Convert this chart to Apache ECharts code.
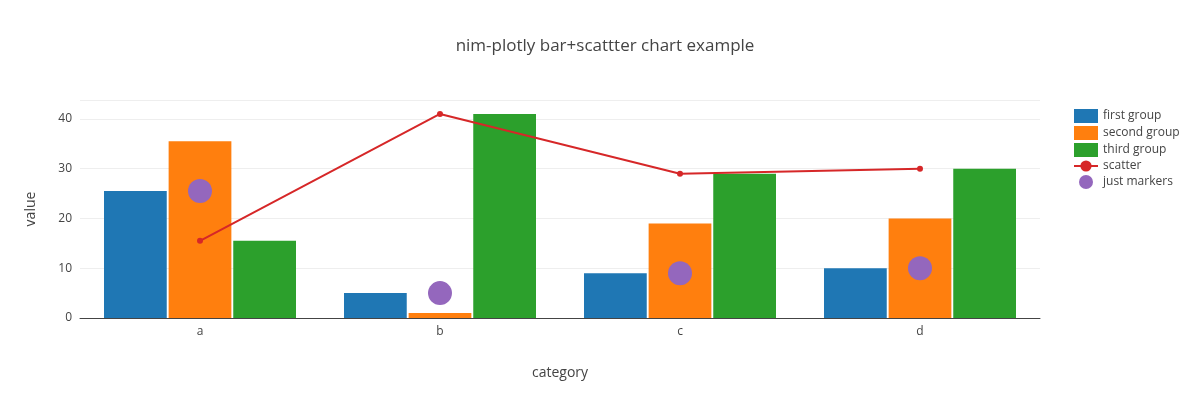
<!DOCTYPE html>
<html>
<head>
<meta charset="utf-8">
<script src="https://cdn.jsdelivr.net/npm/echarts@6/dist/echarts.min.js"></script>
<style>body{margin:0}#main{width:1200px;height:400px}</style>
</head>
<body>
<div id="main"></div>
<script>
const categories = ['a', 'b', 'c', 'd'];
const firstGroup = [25.5, 5, 9, 10];
const secondGroup = [35.5, 1, 19, 20];
const thirdGroup = [15.5, 41, 29, 30];
const scatterLine = [15.5, 41, 29, 30];
const justMarkers = [25.5, 5, 9, 10];

const chart = echarts.init(document.getElementById('main'));
const font = '"Open Sans", sans-serif';
const bar = (name, data, color) => ({
    name: name, type: 'bar', data: data, barGap: '3%', barCategoryGap: '20%',
    itemStyle: { color: color }
});
chart.setOption({
    animation: false,
    textStyle: { fontFamily: font, color: '#444' },
    title: {
        text: 'nim-plotly bar+scattter chart example', left: 600, top: 33, textAlign: 'center',
        textStyle: { fontSize: 17, fontWeight: 'normal', color: '#444', fontFamily: font }
    },
    legend: {
        orient: 'vertical', left: 1068, top: 104, itemGap: 3, itemWidth: 24, itemHeight: 14,
        textStyle: { fontSize: 12, color: '#444', fontFamily: font },
        data: [
            { name: 'first group', icon: 'rect', itemStyle: { color: '#1f77b4' } },
            { name: 'second group', icon: 'rect' },
            { name: 'third group', icon: 'rect' },
            { name: 'scatter' },
            { name: 'just markers', icon: 'circle' }
        ]
    },
    grid: { left: 80, right: 160, top: 100, bottom: 82 },
    xAxis: {
        type: 'category', data: categories,
        name: 'category', nameLocation: 'middle', nameGap: 48,
        nameTextStyle: { fontSize: 14, color: '#444' },
        axisLine: { lineStyle: { color: '#444' } },
        axisTick: { show: false },
        axisLabel: { color: '#444', fontSize: 12 }
    },
    yAxis: {
        type: 'value', min: 0, max: 43.8, interval: 10,
        name: 'value', nameLocation: 'middle', nameGap: 42,
        nameTextStyle: { fontSize: 14, color: '#444' },
        axisLine: { show: false }, axisTick: { show: false },
        axisLabel: { color: '#444', fontSize: 12, showMaxLabel: false },
        splitLine: { lineStyle: { color: '#eee' } }
    },
    series: [
        bar('first group', firstGroup, '#1f77b4'),
        bar('second group', secondGroup, '#ff7f0e'),
        bar('third group', thirdGroup, '#2ca02c'),
        {
            name: 'scatter', type: 'line', data: scatterLine, symbol: 'circle', symbolSize: 6,
            lineStyle: { color: '#d62728', width: 2 }, itemStyle: { color: '#d62728' }, z: 5
        },
        {
            name: 'just markers', type: 'scatter', data: justMarkers, symbolSize: 24,
            itemStyle: { color: '#9467bd', opacity: 1 }, z: 6
        }
    ]
});
</script>
</body>
</html>
